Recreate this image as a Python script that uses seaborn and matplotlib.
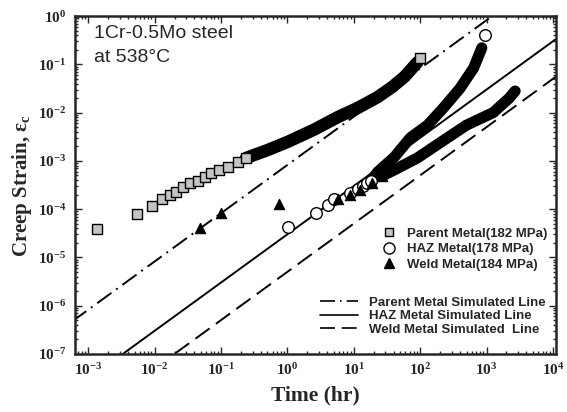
import matplotlib
matplotlib.use('Agg')
import matplotlib.pyplot as plt
from matplotlib.lines import Line2D
from matplotlib.ticker import LogLocator, NullFormatter, FuncFormatter
import seaborn as sns
import numpy as np

# Parent metal (182 MPa): separate squares, then the dense band
parent_time = [1.35e-3, 5.4e-3, 9.1e-3, 1.3e-2, 1.7e-2, 2.1e-2, 2.7e-2, 3.4e-2,
               4.5e-2, 5.7e-2, 7.2e-2, 9.5e-2, 0.13, 0.18, 0.24, 98.0]
parent_strain = [3.9e-5, 7.9e-5, 1.17e-4, 1.6e-4, 1.95e-4, 2.3e-4, 2.9e-4, 3.5e-4,
                 3.8e-4, 4.6e-4, 5.6e-4, 6.4e-4, 7.5e-4, 9.5e-4, 1.15e-3, 0.135]
parent_band_time = [0.24, 0.52, 1.03, 2.5, 5.8, 11.5, 23, 38, 58, 91]
parent_band_strain = [1.15e-3, 1.7e-3, 2.5e-3, 4.4e-3, 8.1e-3, 1.25e-2, 2.1e-2,
                      3.4e-2, 5.5e-2, 0.11]

# HAZ metal (178 MPa)
haz_time = [1.04, 2.7, 4.1, 5.0, 8.9, 11.5, 13.6, 16, 18, 940]
haz_strain = [4.3e-5, 8.3e-5, 1.2e-4, 1.6e-4, 2.2e-4, 2.6e-4, 3.0e-4, 3.5e-4,
              3.8e-4, 0.40]
haz_band_time = [18, 23, 41, 71, 130, 230, 400, 640, 850]
haz_band_strain = [3.8e-4, 5.9e-4, 1.2e-3, 3.0e-3, 5.5e-3, 1.3e-2, 3.2e-2,
                   8.4e-2, 0.22]

# Weld metal (184 MPa)
weld_time = [0.048, 0.1, 0.74, 5.7, 8.7, 12.4, 19, 27]
weld_strain = [4.1e-5, 8.3e-5, 1.3e-4, 1.6e-4, 1.96e-4, 2.5e-4, 3.5e-4, 4.9e-4]
weld_band_time = [27, 41, 91, 230, 500, 1260, 2200, 2700]
weld_band_strain = [4.9e-4, 6.5e-4, 1.15e-3, 2.7e-3, 5.5e-3, 1.0e-2, 2.0e-2, 2.8e-2]

# simulated lines: strain = coef * time
sim_time = np.array([1e-4, 1e5])
sim_coef = [8.2e-4, 3.0e-5, 5.0e-6]
sim_labels = ['Parent Metal Simulated Line', 'HAZ Metal Simulated Line',
              'Weld Metal Simulated  Line']
sim_styles = [(0, (9, 3, 1, 3)), '-', (0, (9, 4))]

data_labels = ['Parent Metal(182 MPa)', 'HAZ Metal(178 MPa)', 'Weld Metal(184 MPa)']

sns.set_style('ticks')
plt.rcParams['font.family'] = ['Liberation Serif', 'DejaVu Serif']
plt.rcParams['mathtext.fontset'] = 'custom'
plt.rcParams['mathtext.rm'] = 'Liberation Serif:bold'
plt.rcParams['mathtext.it'] = 'Liberation Serif:bold'
plt.rcParams['mathtext.bf'] = 'Liberation Serif:bold'

fig = plt.figure(figsize=(5.67, 4.12), dpi=100)
ax = fig.add_axes([0.132, 0.141, 0.849, 0.820])

for coef, ls in zip(sim_coef, sim_styles):
    sns.lineplot(x=sim_time, y=coef * sim_time, ax=ax, color='black',
                 lw=1.4, linestyle=ls, estimator=None, sort=False)

for bt, bs, w in [(parent_band_time, parent_band_strain, 9),
                  (haz_band_time, haz_band_strain, 8),
                  (weld_band_time, weld_band_strain, 8)]:
    sns.lineplot(x=bt, y=bs, ax=ax, color='black', lw=w, estimator=None,
                 sort=False, solid_capstyle='round', solid_joinstyle='round')

sns.scatterplot(x=parent_time, y=parent_strain, ax=ax, marker='s', s=42,
                color='#c4c4c4', edgecolor='black', linewidth=1.0, zorder=5)
sns.scatterplot(x=haz_time, y=haz_strain, ax=ax, marker='o', s=70,
                color='white', edgecolor='black', linewidth=1.0, zorder=5)
sns.scatterplot(x=weld_time, y=weld_strain, ax=ax, marker='^', s=55,
                color='black', edgecolor='black', linewidth=0.8, zorder=5)

ax.set_xscale('log')
ax.set_yscale('log')
ax.set_xlim(10 ** -3.2, 10 ** 4.05)
ax.set_ylim(1e-7, 1e0)

pow_fmt = FuncFormatter(lambda v, pos: r'$\mathbf{10^{%d}}$' % int(round(np.log10(v))))
ax.xaxis.set_major_locator(LogLocator(base=10, numticks=20))
ax.yaxis.set_major_locator(LogLocator(base=10, numticks=20))
for a in (ax.xaxis, ax.yaxis):
    a.set_major_formatter(pow_fmt)
    a.set_minor_locator(LogLocator(base=10, subs=np.arange(2, 10), numticks=20))
    a.set_minor_formatter(NullFormatter())

ax.tick_params(which='both', direction='in', top=True, right=True, width=1.0)
ax.tick_params(which='major', length=5, labelsize=11, pad=6)
ax.tick_params(which='minor', length=2.5)
for sp in ax.spines.values():
    sp.set_linewidth(1.8)
    sp.set_visible(True)

ax.set_xlabel('Time (hr)', fontsize=15.5, fontweight='bold', labelpad=5)
ax.set_ylabel('Creep Strain, \u03b5$_\\mathbf{c}$', fontsize=15,
              fontweight='bold', labelpad=3)

ax.text(0.04, 0.935, '1Cr-0.5Mo steel', transform=ax.transAxes,
        family=['Liberation Sans'], fontsize=14, va='baseline')
ax.text(0.04, 0.864, 'at 538\u00b0C', transform=ax.transAxes,
        family=['Liberation Sans'], fontsize=14, va='baseline')

legend_font = {'family': 'Liberation Sans', 'weight': 'bold', 'size': 9.5}
mk_handles = [
    Line2D([], [], ls='none', marker='s', ms=6, mfc='#c4c4c4', mec='black', mew=1.0),
    Line2D([], [], ls='none', marker='o', ms=8, mfc='white', mec='black', mew=1.0),
    Line2D([], [], ls='none', marker='^', ms=7.5, mfc='black', mec='black'),
]
leg1 = ax.legend(mk_handles, data_labels, loc='center left',
                 bbox_to_anchor=(0.625, 0.31), frameon=False, prop=legend_font,
                 handlelength=1.0, handletextpad=0.9, labelspacing=0.25,
                 borderpad=0)
ax.add_artist(leg1)

ln_handles = [Line2D([], [], color='black', lw=1.2, ls=ls) for ls in sim_styles]
ax.legend(ln_handles, sim_labels, loc='center left',
          bbox_to_anchor=(0.495, 0.112), frameon=False, prop=legend_font,
          handlelength=2.9, handletextpad=0.8, labelspacing=0.1, borderpad=0)

fig.savefig('out.png', dpi=100)
